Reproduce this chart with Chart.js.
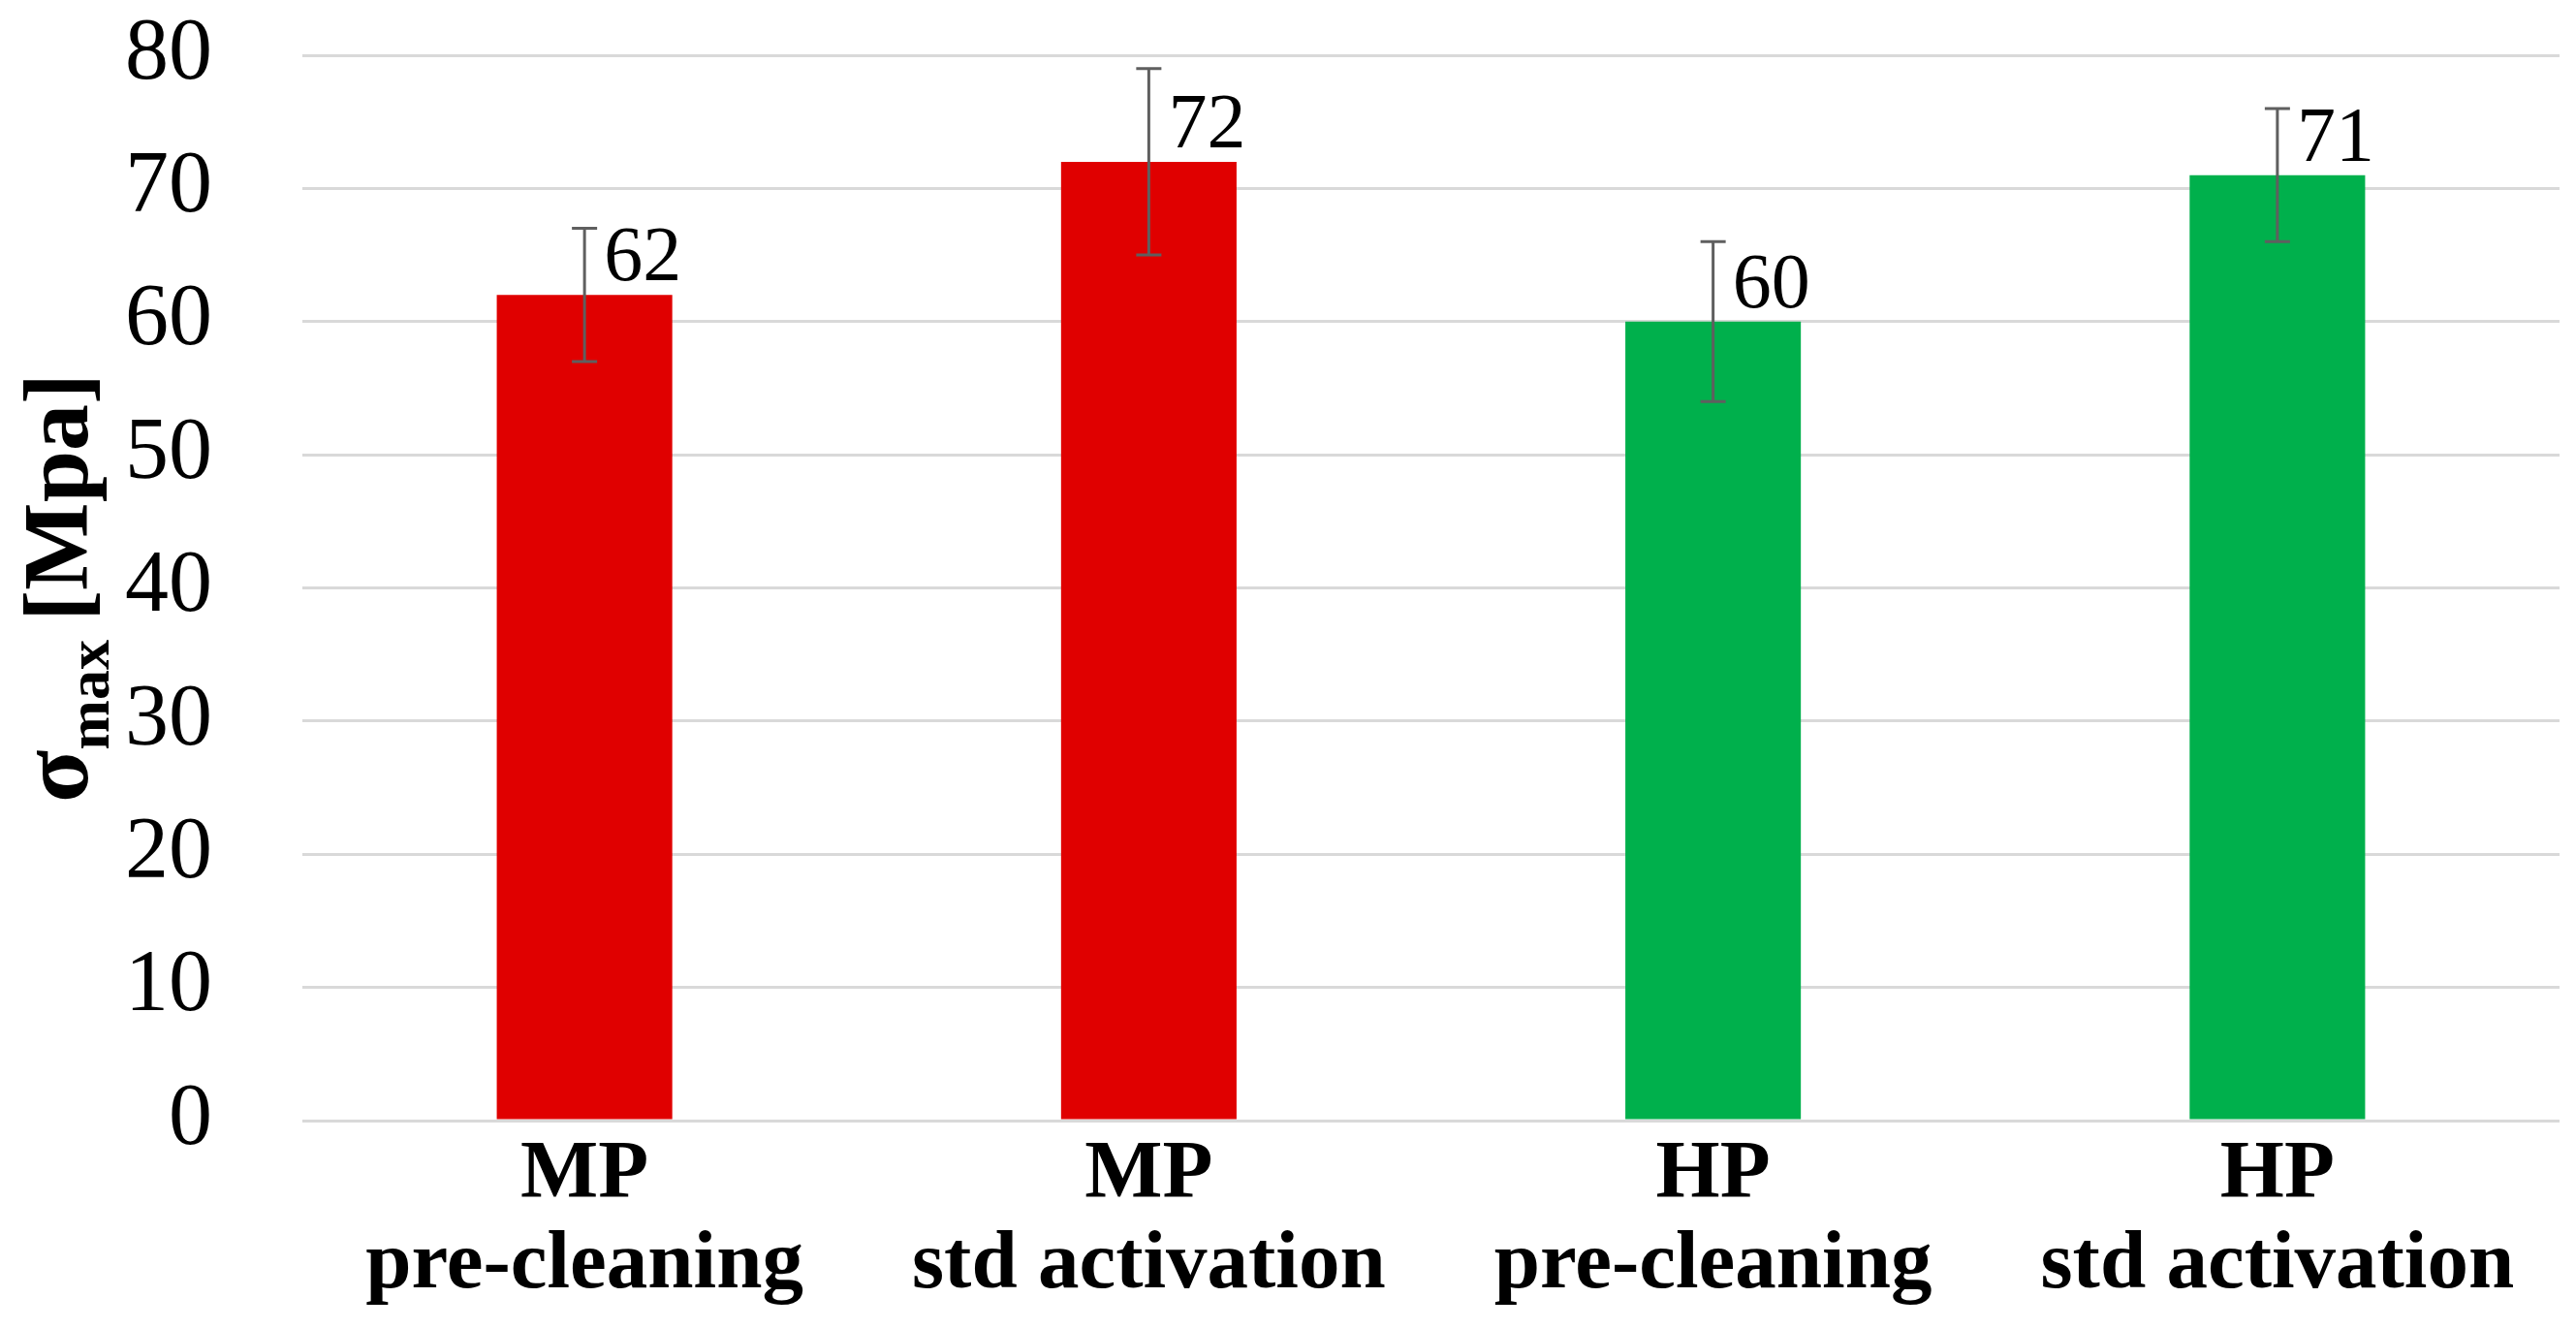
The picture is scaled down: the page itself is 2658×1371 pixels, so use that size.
<!DOCTYPE html>
<html>
<head>
<meta charset="utf-8">
<script src="https://cdn.jsdelivr.net/npm/chart.js@4"></script>
<style>
  html, body { margin: 0; padding: 0; background: #ffffff; overflow: hidden; }
  #wrap { width: 2658px; height: 1371px; }
</style>
</head>
<body>
<div id="wrap"><canvas id="c" width="2658" height="1371"></canvas></div>
<script>
// ---- data ----
const categories = [
  ["MP", "pre-cleaning"],
  ["MP", "std activation"],
  ["HP", "pre-cleaning"],
  ["HP", "std activation"]
];
const values = [62, 72, 60, 71];
const errors = [5, 7, 6, 5];
const barColors = ["#E00000", "#E00000", "#00B04C", "#00B04C"];
const yTicks = [0, 10, 20, 30, 40, 50, 60, 70, 80];
const yTitleMain = "σ";
const yTitleSub = "max";
const yTitleUnit = "[Mpa]";

const SERIF = '"Liberation Serif", "Times New Roman", serif';

const errorBarPlugin = {
  id: 'errorBars',
  afterDatasetsDraw(chart) {
    const ctx = chart.ctx;
    const yScale = chart.scales.y;
    const meta = chart.getDatasetMeta(0);
    ctx.save();
    ctx.strokeStyle = '#5f5f5f';
    ctx.lineWidth = 3;
    meta.data.forEach((bar, i) => {
      const x = bar.x;
      const yHi = yScale.getPixelForValue(values[i] + errors[i]);
      const yLo = yScale.getPixelForValue(values[i] - errors[i]);
      const cap = 13;
      ctx.beginPath();
      ctx.moveTo(x, yHi); ctx.lineTo(x, yLo);
      ctx.moveTo(x - cap, yHi); ctx.lineTo(x + cap, yHi);
      ctx.moveTo(x - cap, yLo); ctx.lineTo(x + cap, yLo);
      ctx.stroke();
    });
    // data labels
    ctx.fillStyle = '#000000';
    ctx.font = '80px ' + SERIF;
    ctx.textAlign = 'left';
    ctx.textBaseline = 'alphabetic';
    meta.data.forEach((bar, i) => {
      ctx.fillText(String(values[i]), bar.x + 20, bar.y - 15);
    });
    ctx.restore();
  }
};

const yTitlePlugin = {
  id: 'yTitle',
  afterDraw(chart) {
    const ctx = chart.ctx;
    const area = chart.chartArea;
    const cy = (area.top + area.bottom) / 2;
    ctx.save();
    ctx.fillStyle = '#000000';
    ctx.textBaseline = 'alphabetic';
    ctx.textAlign = 'left';
    const fMain = 'bold 100px ' + SERIF;
    const fSub = 'bold 62px ' + SERIF;
    const fUnit = 'bold 96px ' + SERIF;
    ctx.font = fMain; const w1 = ctx.measureText(yTitleMain).width;
    ctx.font = fSub; const w2 = ctx.measureText(yTitleSub).width;
    ctx.font = fUnit; const ws = ctx.measureText(' ').width * 0.8; const w3 = ctx.measureText(yTitleUnit).width;
    const total = w1 + w2 + ws + w3;
    ctx.translate(0, cy);
    ctx.rotate(-Math.PI / 2);
    let u = -total / 2;
    const base = 90;
    ctx.font = fMain; ctx.fillText(yTitleMain, u, base); u += w1;
    ctx.font = fSub; ctx.fillText(yTitleSub, u, base + 22); u += w2 + ws;
    ctx.font = fUnit; ctx.fillText(yTitleUnit, u, base);
    ctx.restore();
  }
};

new Chart(document.getElementById('c'), {
  type: 'bar',
  data: {
    labels: categories,
    datasets: [{
      data: values,
      backgroundColor: barColors,
      borderWidth: 0,
      barPercentage: 0.311,
      categoryPercentage: 1.0
    }]
  },
  options: {
    responsive: false,
    devicePixelRatio: 1,
    animation: false,
    events: [],
    layout: { padding: { top: 57, right: 17, bottom: 0, left: 0 } },
    plugins: {
      legend: { display: false },
      tooltip: { enabled: false },
      title: { display: false }
    },
    scales: {
      x: {
        grid: { display: false, drawTicks: false },
        border: { display: false },
        ticks: {
          color: '#000000',
          font: { family: SERIF, size: 85, weight: 'bold', lineHeight: 1.1 },
          padding: 10,
          maxRotation: 0,
          autoSkip: false
        },
        afterFit(scale) {
          scale.height = 215;
          scale.paddingLeft = 0; scale.paddingRight = 0;
          scale.paddingTop = 0; scale.paddingBottom = 0;
        }
      },
      y: {
        min: 0,
        max: 80,
        afterBuildTicks(scale) { scale.ticks = yTicks.map(v => ({ value: v })); },
        grid: { color: '#d9d9d9', lineWidth: 3, drawTicks: false },
        border: { display: false },
        ticks: {
          color: '#000000',
          font: { family: SERIF, size: 90 },
          padding: 93
        },
        afterFit(scale) {
          scale.width = 312;
          scale.paddingTop = 0; scale.paddingBottom = 0;
          scale.paddingLeft = 0; scale.paddingRight = 0;
        }
      }
    }
  },
  plugins: [errorBarPlugin, yTitlePlugin]
});
</script>
</body>
</html>
